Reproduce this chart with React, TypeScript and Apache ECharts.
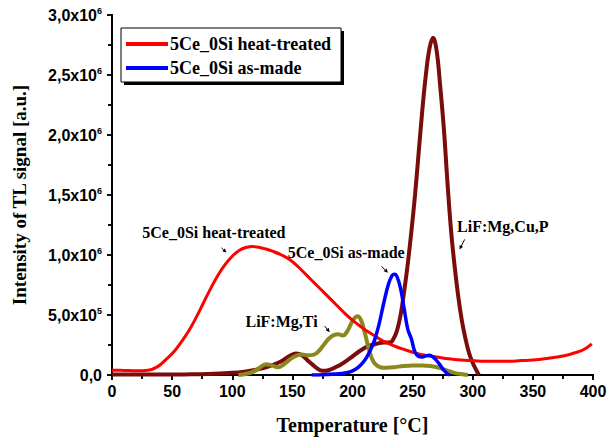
import React, { useEffect, useRef } from "react";
import * as echarts from "echarts";

const heatT = [0,10,20,30,38,45,52,58,64,70,76,82,88,94,100,106,112,117,122,128,134,141,148,155,162,170,178,186,194,202,210,218,226,234,242,250,260,270,280,290,300,310,320,330,340,350,360,370,378,385,392,399];
const heatI = [0.04,0.038,0.035,0.04,0.07,0.13,0.2,0.28,0.37,0.48,0.6,0.72,0.83,0.92,0.99,1.04,1.065,1.07,1.065,1.05,1.03,1.0,0.96,0.9,0.83,0.75,0.67,0.59,0.51,0.44,0.38,0.33,0.28,0.245,0.215,0.19,0.165,0.15,0.135,0.125,0.12,0.115,0.115,0.115,0.12,0.125,0.135,0.15,0.165,0.185,0.21,0.26];

const madeT = [166,175,185,195,200,205,210,214,218,222,226,230,233,235,237,240,243,246,249,252,255,258,261,264,267,270,273,276,279,281];
const madeI = [0,0.002,0.008,0.02,0.035,0.065,0.12,0.19,0.28,0.42,0.6,0.76,0.83,0.84,0.82,0.72,0.55,0.38,0.3,0.19,0.155,0.15,0.16,0.165,0.15,0.12,0.08,0.04,0.01,0];

const tiT = [105,112,118,124,128,133,138,143,148,153,158,163,168,172,176,180,184,188,192,196,200,204,207,210,213,216,219,223,228,235,242,250,258,265,272,278,284,290,296];
const tiI = [0,0.01,0.03,0.07,0.09,0.08,0.065,0.09,0.13,0.16,0.17,0.165,0.17,0.2,0.25,0.3,0.33,0.34,0.33,0.37,0.45,0.49,0.46,0.36,0.24,0.14,0.09,0.065,0.06,0.065,0.075,0.08,0.08,0.075,0.06,0.04,0.02,0.008,0];

const cupT = [0,20,40,60,80,100,110,120,130,140,148,153,158,164,170,175,180,189,198,206,213,220,226,231,234,237,240,243,246,249,252,255,258,261,264,267,270,273,276,279,282,285,288,291,294,297,300,303,305];
const cupI = [0.004,0.004,0.004,0.005,0.008,0.018,0.028,0.045,0.07,0.11,0.16,0.18,0.165,0.11,0.06,0.035,0.04,0.08,0.14,0.2,0.24,0.26,0.27,0.27,0.3,0.37,0.5,0.7,0.93,1.2,1.5,1.85,2.2,2.5,2.72,2.81,2.7,2.4,2.05,1.6,1.2,0.9,0.65,0.45,0.3,0.18,0.1,0.04,0.0];

const SCALE = 1e6; // intensities above are in units of 10^6 a.u.

const annoText = ["5Ce_0Si heat-treated", "5Ce_0Si as-made", "LiF:Mg,Ti", "LiF:Mg,Cu,P"];
const annoPos = [[84.7, 1.19], [194.8, 1.02], [141, 0.448], [325, 1.24]];
const arrowFrom = [[91, 1.06], [224, 0.907], [176.9, 0.407], [293.3, 1.13]];
const arrowTo = [[95.2, 1.02], [229.5, 0.852], [181, 0.357], [289, 1.046]];

const serif = "'Liberation Serif', 'Times New Roman', serif";
const sans = "'Liberation Sans', Arial, sans-serif";

function pairs(t: number[], v: number[]) {
  return t.map((x, i) => [x, v[i] * SCALE]);
}

function yLabel(v: number) {
  if (v === 0) return "0,0";
  const e = Math.floor(Math.log10(v) + 1e-9);
  const m = (v / Math.pow(10, e)).toFixed(1).replace(".", ",");
  return `${m}x10{sup|${e}}`;
}

export default function App() {
  const ref = useRef<HTMLDivElement>(null);
  useEffect(() => {
    document.body.style.margin = "0";
    const chart = echarts.init(ref.current!, null, { renderer: "svg" });
    const axisLine = { show: true, lineStyle: { color: "#000", width: 2 } };
    const tick = (inside: boolean) => ({ show: true, inside, length: 5, lineStyle: { width: 1.5, color: "#000" } });
    const minor = { show: true, splitNumber: 2, length: 4, lineStyle: { width: 1.5, color: "#000" } };
    chart.setOption({
      animation: false,
      backgroundColor: "#fff",
      grid: { left: 112, right: 15, top: 15, bottom: 66, containLabel: false, outerBoundsMode: "none" },
      legend: {
        data: ["5Ce_0Si heat-treated", "5Ce_0Si as-made"],
        left: 126,
        top: 34,
        orient: "vertical",
        itemWidth: 42,
        itemHeight: 4,
        itemGap: 4,
        padding: 0,
        icon: "rect",
        textStyle: { fontFamily: serif, fontWeight: "bold", fontSize: 18, color: "#000", lineHeight: 20, padding: [0, 0, 0, -3] },
        z: 10,
      },
      xAxis: [
        {
          type: "value", min: 0, max: 400, interval: 50, position: "bottom",
          name: "Temperature [°C]", nameLocation: "middle", nameGap: 40,
          nameTextStyle: { fontFamily: serif, fontWeight: "bold", fontSize: 20, color: "#000" },
          axisLine, splitLine: { show: false }, axisTick: tick(false), minorTick: minor,
          axisLabel: { fontFamily: sans, fontWeight: "bold", fontSize: 16, color: "#000", margin: 8 },
        },
        {
          type: "value", min: 0, max: 400, interval: 50, position: "top",
          axisLine, splitLine: { show: false }, axisTick: tick(true), minorTick: minor,
          axisLabel: { show: false },
        },
      ],
      yAxis: [
        {
          type: "value", min: 0, max: 3e6, interval: 5e5, position: "left",
          name: "Intensity of TL signal [a.u.]", nameLocation: "middle", nameGap: 83, nameRotate: 90,
          nameTextStyle: { fontFamily: serif, fontWeight: "bold", fontSize: 19, color: "#000" },
          axisLine, splitLine: { show: false }, axisTick: tick(false), minorTick: minor,
          axisLabel: {
            formatter: yLabel, margin: 10,
            fontFamily: sans, fontWeight: "bold", fontSize: 16, color: "#000",
            rich: { sup: { fontFamily: sans, fontWeight: "bold", fontSize: 9, color: "#000", verticalAlign: "top", padding: [0, 0, 9, 0] } },
          },
        },
        {
          type: "value", min: 0, max: 3e6, interval: 5e5, position: "right",
          axisLine, splitLine: { show: false }, axisTick: tick(true), minorTick: minor,
          axisLabel: { show: false },
        },
      ],
      series: [
        { name: "LiF:Mg,Cu,P", type: "line", data: pairs(cupT, cupI), showSymbol: false, smooth: 0.4, lineStyle: { color: "#7a0c0c", width: 4 }, itemStyle: { color: "#7a0c0c" }, z: 2 },
        { name: "LiF:Mg,Ti", type: "line", data: pairs(tiT, tiI), showSymbol: false, smooth: 0.4, lineStyle: { color: "#8a8a1c", width: 4 }, itemStyle: { color: "#8a8a1c" }, z: 3 },
        { name: "5Ce_0Si heat-treated", type: "line", data: pairs(heatT, heatI), showSymbol: false, smooth: 0.4, lineStyle: { color: "#ff0000", width: 3 }, itemStyle: { color: "#ff0000" }, z: 4 },
        { name: "5Ce_0Si as-made", type: "line", data: pairs(madeT, madeI), showSymbol: false, smooth: 0.4, lineStyle: { color: "#0000ff", width: 3.5 }, itemStyle: { color: "#0000ff" }, z: 5 },
      ],
    });

    const px = (p: number[]) => chart.convertToPixel({ xAxisIndex: 0, yAxisIndex: 0 }, [p[0], p[1] * SCALE]) as number[];
    const graphics: any[] = [
      { type: "rect", shape: { x: 124, y: 31, width: 220, height: 54 }, style: { fill: "#000" }, z: 8 },
      { type: "rect", shape: { x: 121, y: 28, width: 220, height: 54 }, style: { fill: "#fff", stroke: "#000", lineWidth: 1 }, z: 9 },
    ];
    annoText.forEach((t, i) => {
      const c = px(annoPos[i]);
      graphics.push({
        type: "text", x: c[0], y: c[1], z: 20,
        style: { text: t, fontFamily: serif, fontWeight: "bold", fontSize: 16, fill: "#000", align: "center", verticalAlign: "middle" },
      });
      const a = px(arrowFrom[i]);
      const b = px(arrowTo[i]);
      const dx = b[0] - a[0], dy = b[1] - a[1];
      const len = Math.hypot(dx, dy);
      const ux = dx / len, uy = dy / len;
      const hl = 4, hw = 2;
      const bx = b[0] - ux * hl, by = b[1] - uy * hl;
      graphics.push({ type: "line", z: 20, shape: { x1: a[0], y1: a[1], x2: bx, y2: by }, style: { stroke: "#000", lineWidth: 1 } });
      graphics.push({
        type: "polygon", z: 20,
        shape: { points: [[b[0], b[1]], [bx - uy * hw, by + ux * hw], [bx + uy * hw, by - ux * hw]] },
        style: { fill: "#000" },
      });
    });
    chart.setOption({ graphic: graphics });
    return () => chart.dispose();
  }, []);
  return <div ref={ref} style={{ width: 608, height: 441 }} />;
}
